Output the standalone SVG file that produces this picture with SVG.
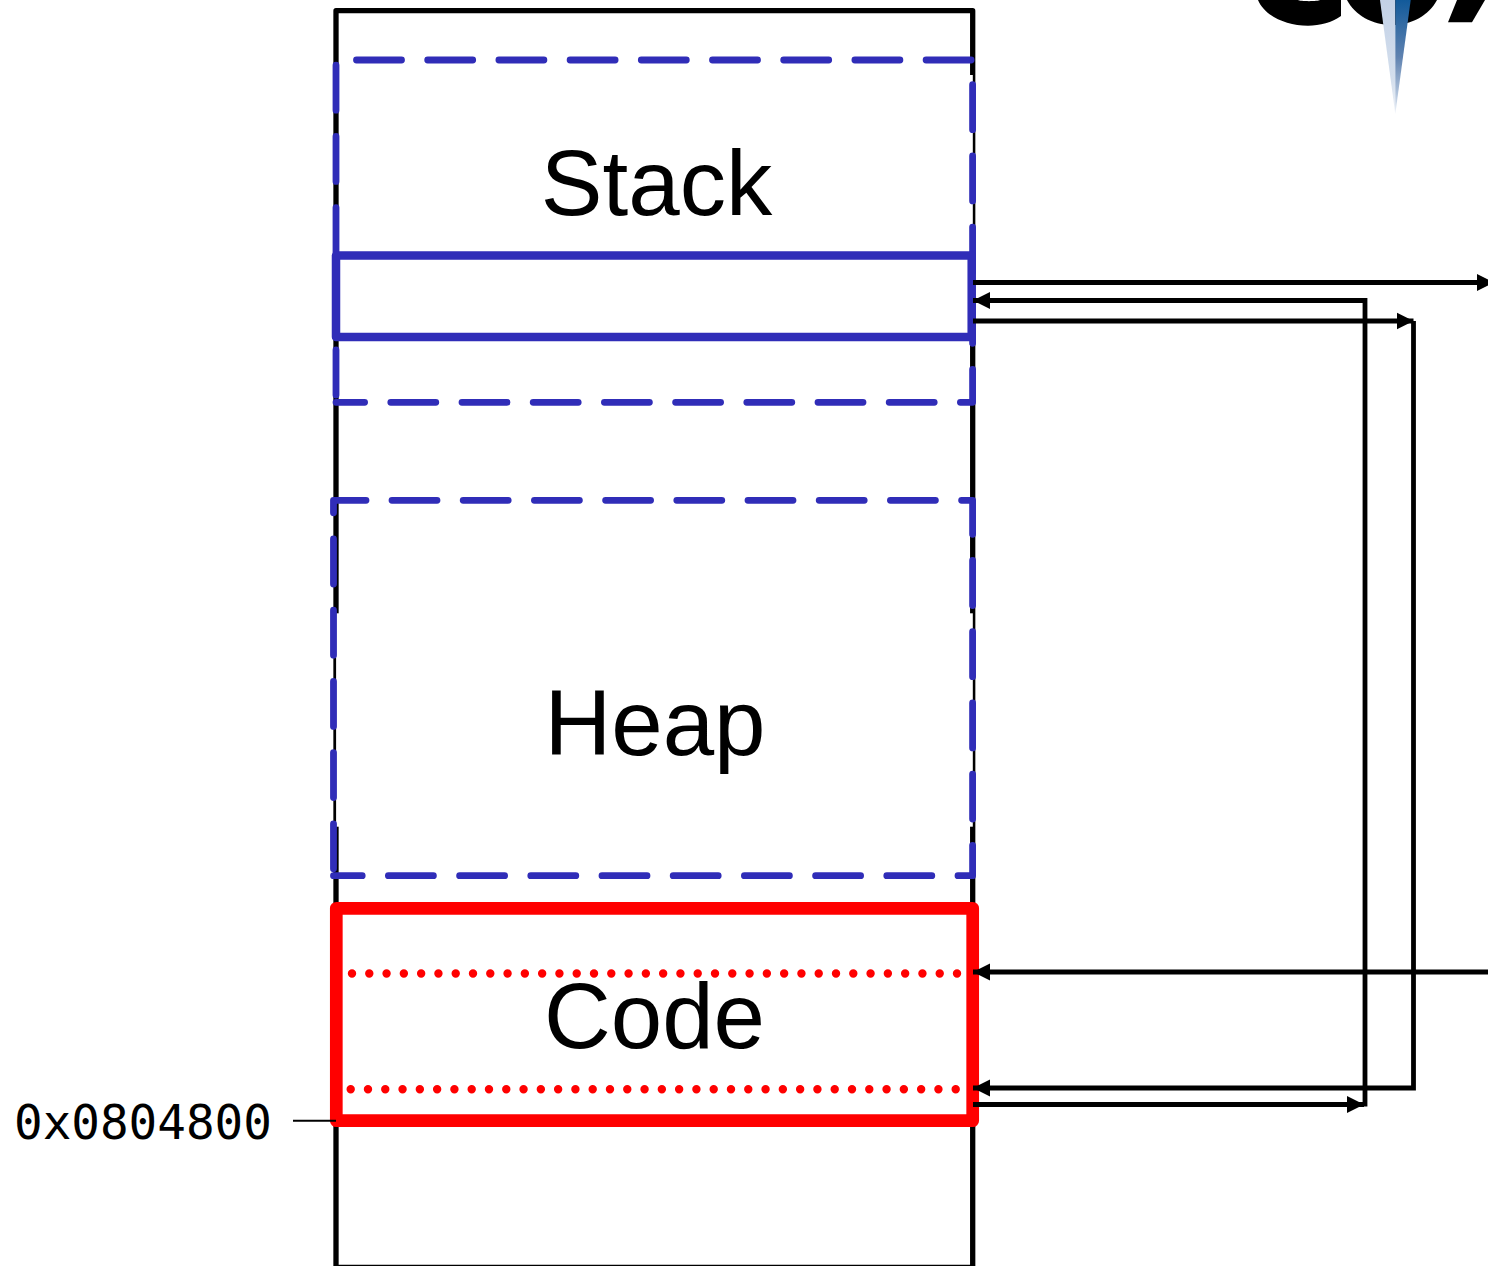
<svg xmlns="http://www.w3.org/2000/svg" width="1488" height="1266" viewBox="0 0 1488 1266">
<style>
.label{font-family:"Liberation Sans",Arial,sans-serif;font-size:92.5px;fill:#000;text-anchor:middle}
.addr{font-family:"DejaVu Sans Mono",monospace;font-size:47.6px;fill:#000}
.dash{fill:none;stroke:#302db8;stroke-width:6.8;stroke-linecap:round;stroke-linejoin:round;stroke-dasharray:45 26.2}
.dot{fill:none;stroke:#f00;stroke-width:8.4;stroke-linecap:round;stroke-dasharray:0 17.286}
.cut{fill:#fff}
.conn{fill:none;stroke:#000;stroke-width:4.8;stroke-linejoin:miter}
</style>
<defs>
<marker id="head" markerUnits="userSpaceOnUse" markerWidth="18" markerHeight="18" refX="17" refY="9" orient="auto-start-reverse"><path d="M0,0.5 L17,9 L0,17.5 Z" fill="#000"/></marker>
<linearGradient id="spikeL" x1="0" y1="0" x2="0" y2="1"><stop offset="0" stop-color="#c3d1e6"/><stop offset="0.7" stop-color="#d4dfed"/><stop offset="1" stop-color="#eef2f8"/></linearGradient>
<linearGradient id="spikeR" x1="0" y1="0" x2="0" y2="1"><stop offset="0" stop-color="#125a9a"/><stop offset="0.5" stop-color="#5f82b0"/><stop offset="0.78" stop-color="#a5bad5"/><stop offset="1" stop-color="#e8eef6"/></linearGradient>
</defs>
<rect width="1488" height="1266" fill="#fff"/>

<g id="logo">
<path d="M1258,0 C1264,15 1285,25.7 1308,25.7 C1320,25.7 1332,22.5 1341,16 V0 H1320 C1318,1.5 1300,1.5 1298,0 Z" fill="#000"/>
<path d="M1347,0 C1355,15 1372,25 1392,25 C1412,25 1429,15 1437,0 Z" fill="#000"/>
<path d="M1457,0 H1485 L1472,22.3 H1448 Z" fill="#000"/>
<path d="M1380,0 H1395.3 V114 Z" fill="url(#spikeL)"/>
<path d="M1395.3,0 H1410.7 L1395.3,114 Z" fill="url(#spikeR)"/>
</g>

<g id="memory">
<path d="M336,1267.5 V10.7 H972.7 V1267.5 Z" fill="none" stroke="#000" stroke-width="5.3" stroke-linejoin="round"/>
<rect class="cut" x="336.1" y="613.3" width="3.4" height="213.4"/>
<rect class="cut" x="969" y="75" width="3.8" height="178"/>
<rect class="cut" x="969" y="613.3" width="3.8" height="213.4"/>
</g>

<g id="stack">
<path class="dash" d="M356.5,60 H972.6 V402.3 H336"/>
<path class="dash" d="M336,395 V60"/>
<rect x="336" y="255.5" width="635.7" height="81.5" fill="none" stroke="#302db8" stroke-width="8.5" stroke-linejoin="round"/>
<text class="label" x="656.5" y="215">Stack</text>
</g>

<g id="heap">
<path class="dash" d="M392,500.3 H972.6 V875.7 H333.5"/>
<path class="dash" d="M366,500.3 H333.5 V870"/>
<text class="label" x="655" y="755">Heap</text>
</g>

<g id="code">
<path class="dot" d="M352,973.5 H958"/>
<path class="dot" d="M350.7,1089.3 H956"/>
<rect x="336.3" y="908.3" width="636.4" height="212.4" fill="none" stroke="#f00" stroke-width="12.7" stroke-linejoin="round"/>
<text class="label" x="654.5" y="1048">Code</text>
</g>

<g id="address">
<text class="addr" x="14" y="1138.5">0x0804800</text>
<path d="M293,1120.7 H336" fill="none" stroke="#000" stroke-width="2"/>
</g>

<g id="connectors">
<path class="conn" d="M973,282.5 H1494" marker-end="url(#head)"/>
<path class="conn" d="M973,321 H1413.5" marker-end="url(#head)"/>
<path class="conn" d="M1413.5,321 V1088 H973" marker-end="url(#head)"/>
<path class="conn" d="M973,1104.5 H1364" marker-end="url(#head)"/>
<path class="conn" d="M1365,1106.5 V300.5 H973" marker-end="url(#head)"/>
<path class="conn" d="M1488,972 H973" marker-end="url(#head)"/>
</g>
</svg>
